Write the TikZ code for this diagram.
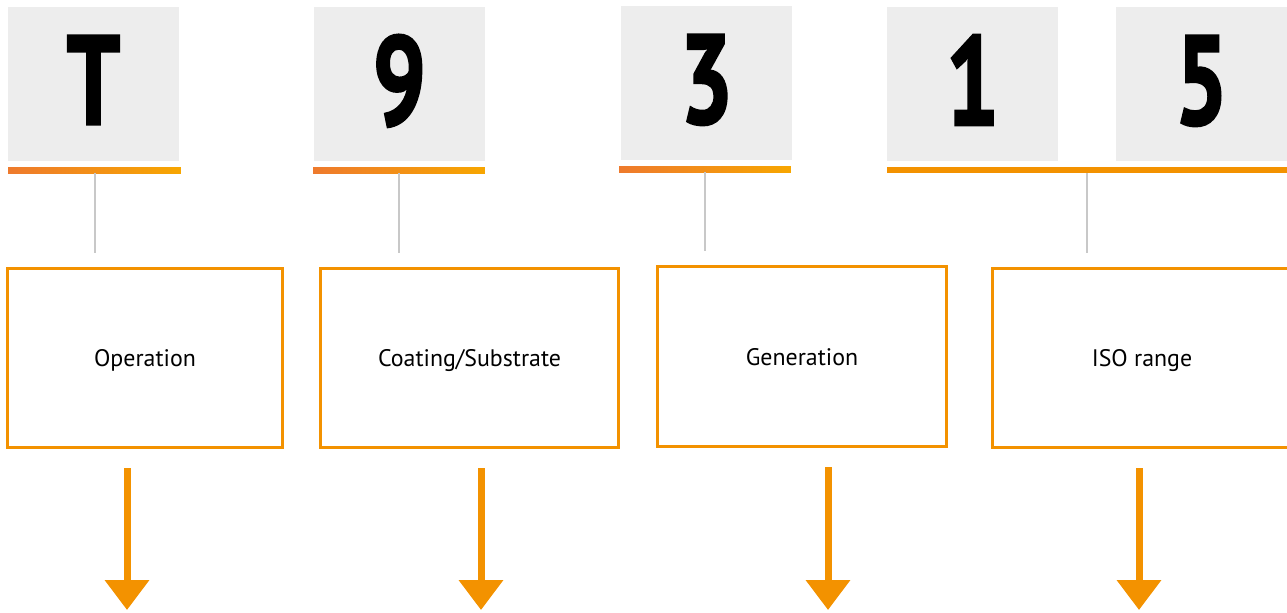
\documentclass[tikz,border=0pt]{standalone}
\usepackage{fontspec}
\setmainfont{PT Sans}
\newfontfamily\digitfont{PT Sans}[FakeBold=2.2]
\usetikzlibrary{arrows.meta}

\definecolor{tileGrey}{HTML}{EDEDED}
\definecolor{codeOrange}{HTML}{F39200}
\definecolor{barRed}{HTML}{EE7A2D}
\definecolor{barYellow}{HTML}{F7A600}
\definecolor{stemGrey}{HTML}{C8C8C8}

\newcommand{\tilechar}[1]{\raisebox{0.16cm}{\scalebox{0.74}[1]{#1}}}

\tikzset{
  tile/.style={fill=tileGrey, inner sep=0pt, minimum width=3.42cm, minimum height=3.08cm,
    font=\fontsize{72}{72}\digitfont\bfseries},
  bar/.style={inner sep=0pt, minimum height=0.12cm, left color=barRed, right color=barYellow},
  flatbar/.style={inner sep=0pt, minimum height=0.12cm, fill=codeOrange},
  stem/.style={draw=stemGrey, line width=0.04cm, shorten >=0.28cm},
  field/.style={draw=codeOrange, line width=0.06cm, inner sep=0pt, minimum height=3.6cm,
    text depth=0pt, font=\fontsize{13.6}{16}\selectfont},
  pointer/.style={draw=codeOrange, line width=0.14cm, -{Triangle[width=0.86cm,length=0.6cm]}}
}

\begin{document}
\begin{tikzpicture}[x=0.02cm,y=-0.02cm]
    \useasboundingbox (0,0) rectangle (1287,612);
    % T
    \node[tile] (tT) at (93.5,84) {\tilechar{T}};
    \node[bar, minimum width=3.46cm] (barT) at (94.5,170) {};
    \node[field, minimum width=5.5cm] (opT) at (145,358) {Operation};
    \draw[stem] (barT.south) -- (barT.south |- opT.north);
    \coordinate (aT1) at (127,468);
    \coordinate (aT2) at (127,610);
    \draw[pointer] (aT1) -- (aT2);
    % 9
    \node[tile] (t9) at (399.5,84) {\tilechar{9}};
    \node[bar, minimum width=3.44cm] (bar9) at (399,170) {};
    \node[field, minimum width=5.96cm] (op9) at (469.5,358) {Coating/Substrate};
    \draw[stem] (bar9.south) -- (bar9.south |- op9.north);
    \coordinate (a91) at (481,468);
    \coordinate (a92) at (481,610);
    \draw[pointer] (a91) -- (a92);
    % 3
    \node[tile] (t3) at (706.5,83) {\tilechar{3}};
    \node[bar, minimum width=3.44cm] (bar3) at (705,169) {};
    \node[field, minimum width=5.78cm] (op3) at (802,356.5) {Generation};
    \draw[stem] (bar3.south) -- (bar3.south |- op3.north);
    \coordinate (a31) at (828,467);
    \coordinate (a32) at (828,610);
    \draw[pointer] (a31) -- (a32);
    % 1 5
    \node[tile] (t1) at (972.5,84) {\tilechar{1}};
    \node[tile] (t5) at (1201.5,84) {\tilechar{5}};
    \node[flatbar, minimum width=8cm] (bar15) at (1087,170) {};
    \node[field, minimum width=5.98cm] (op15) at (1142,358) {ISO range};
    \draw[stem] (bar15.south) -- (bar15.south |- op15.north);
    \coordinate (a151) at (1139,468);
    \coordinate (a152) at (1139,610);
    \draw[pointer] (a151) -- (a152);
\end{tikzpicture}
\end{document}
